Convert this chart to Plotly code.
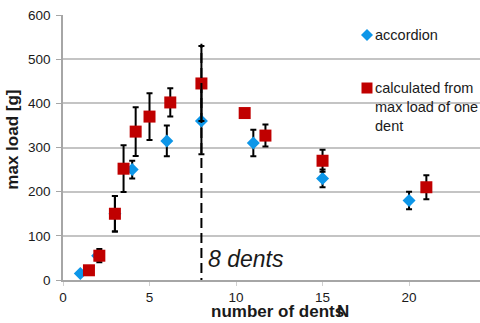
import plotly.graph_objects as go

# Accordion measurements
acc_n = [1, 2, 3, 4, 6, 8, 11, 15, 20]
acc_load = [15, 55, 150, 250, 315, 360, 310, 230, 180]
acc_err = [0, 10, 40, 20, 35, 75, 30, 20, 20]

# Values calculated from the max load of one dent
calc_n = [1.5, 2.1, 3, 3.5, 4.2, 5, 6.2, 8, 10.5, 11.7, 15, 21]
calc_load = [22, 55, 150, 252, 336, 370, 402, 445, 378, 327, 270, 210]
calc_err = [0, 15, 40, 53, 55, 53, 32, 85, 8, 25, 25, 27]

x_ticks = [0, 5, 10, 15, 20]
y_ticks = [0, 100, 200, 300, 400, 500, 600]
marker_dents = 8

FONT = "Liberation Sans, Arial, sans-serif"
BLUE = "#0d96e8"
RED = "#c00000"
TXT = "#1a1a1a"

err_style = dict(type="data", visible=True, color="black", thickness=2, width=3)


def add_series(x, y, err, name, symbol, size, color):
    fig.add_trace(go.Scatter(
        x=x, y=y, mode="markers", name=name,
        marker=dict(symbol=symbol, size=size, color=color),
        error_y=dict(array=err, **err_style),
    ))


fig = go.Figure()
add_series(acc_n, acc_load, acc_err, "accordion", "diamond", 10, BLUE)
add_series(calc_n, calc_load, calc_err, "calculated from max load of one dent",
           "square", 12, RED)

# dashed marker at 8 dents
fig.add_shape(type="line", xref="x", yref="y", x0=marker_dents, x1=marker_dents,
              y0=-18, y1=535, line=dict(color="black", width=2, dash="10px,5px"))
fig.add_annotation(x=marker_dents, y=47, xref="x", yref="y", xanchor="left",
                   xshift=5, text="<i>8 dents</i>", showarrow=False,
                   font=dict(family=FONT, size=23, color=TXT))

# hand-built legend
fig.add_shape(type="path", xref="paper", yref="paper", xsizemode="pixel",
              ysizemode="pixel", xanchor=0.729, yanchor=0.9245,
              path="M -6,0 L 0,6 L 6,0 L 0,-6 Z", fillcolor=BLUE, line=dict(width=0))
fig.add_shape(type="rect", xref="paper", yref="paper", xsizemode="pixel",
              ysizemode="pixel", xanchor=0.729, yanchor=0.7245,
              x0=-5.5, x1=5.5, y0=-5.5, y1=5.5, fillcolor=RED, line=dict(width=0))
fig.add_annotation(x=0.744, y=0.9245, xref="paper", yref="paper", xanchor="left",
                   yanchor="middle", text="accordion", showarrow=False,
                   font=dict(family=FONT, size=14.5, color=TXT))
fig.add_annotation(x=0.744, y=0.7245, xref="paper", yref="paper", xanchor="left",
                   yanchor="top", yshift=10, align="left",
                   text="calculated from<br>max load of one<br>dent", showarrow=False,
                   font=dict(family=FONT, size=14.5, color=TXT))

# axis titles
fig.add_annotation(x=-0.122, y=0.5, xref="paper", yref="paper", textangle=-90,
                   xanchor="center", yanchor="middle",
                   text="<b>max load [g]</b>", showarrow=False, yshift=8,
                   font=dict(family=FONT, size=17, color=TXT))
fig.add_annotation(x=0.5, y=0, xref="paper", yref="paper", yanchor="middle",
                   xshift=6, yshift=-31, text="<b>number of dents</b>", showarrow=False,
                   font=dict(family=FONT, size=17, color=TXT))
fig.add_annotation(x=0.5, y=0, xref="paper", yref="paper", yanchor="middle",
                   xshift=71, yshift=-31, text="<b>N</b>", showarrow=False,
                   font=dict(family=FONT, size=17, color=TXT))

fig.update_layout(
    width=480, height=323,
    margin=dict(l=63, r=0, t=15, b=43),
    paper_bgcolor="white", plot_bgcolor="white",
    showlegend=False,
    font=dict(family=FONT, size=13.5, color=TXT),
    xaxis=dict(range=[0, 24.1], tickvals=x_ticks, showgrid=False, zeroline=False,
               showline=True, linecolor="#a6a6a6", linewidth=1.5,
               ticks="outside", ticklen=4, tickcolor="#d0d0d0"),
    yaxis=dict(range=[0, 600], tickvals=y_ticks, showgrid=True, gridcolor="#c4c4c4",
               gridwidth=1.5, zeroline=False, showline=True, linecolor="#a6a6a6",
               linewidth=1.5, ticks="outside", ticklen=5, tickcolor="#a6a6a6",
               ticklabelstandoff=3),
)

fig.write_html("out.html")
